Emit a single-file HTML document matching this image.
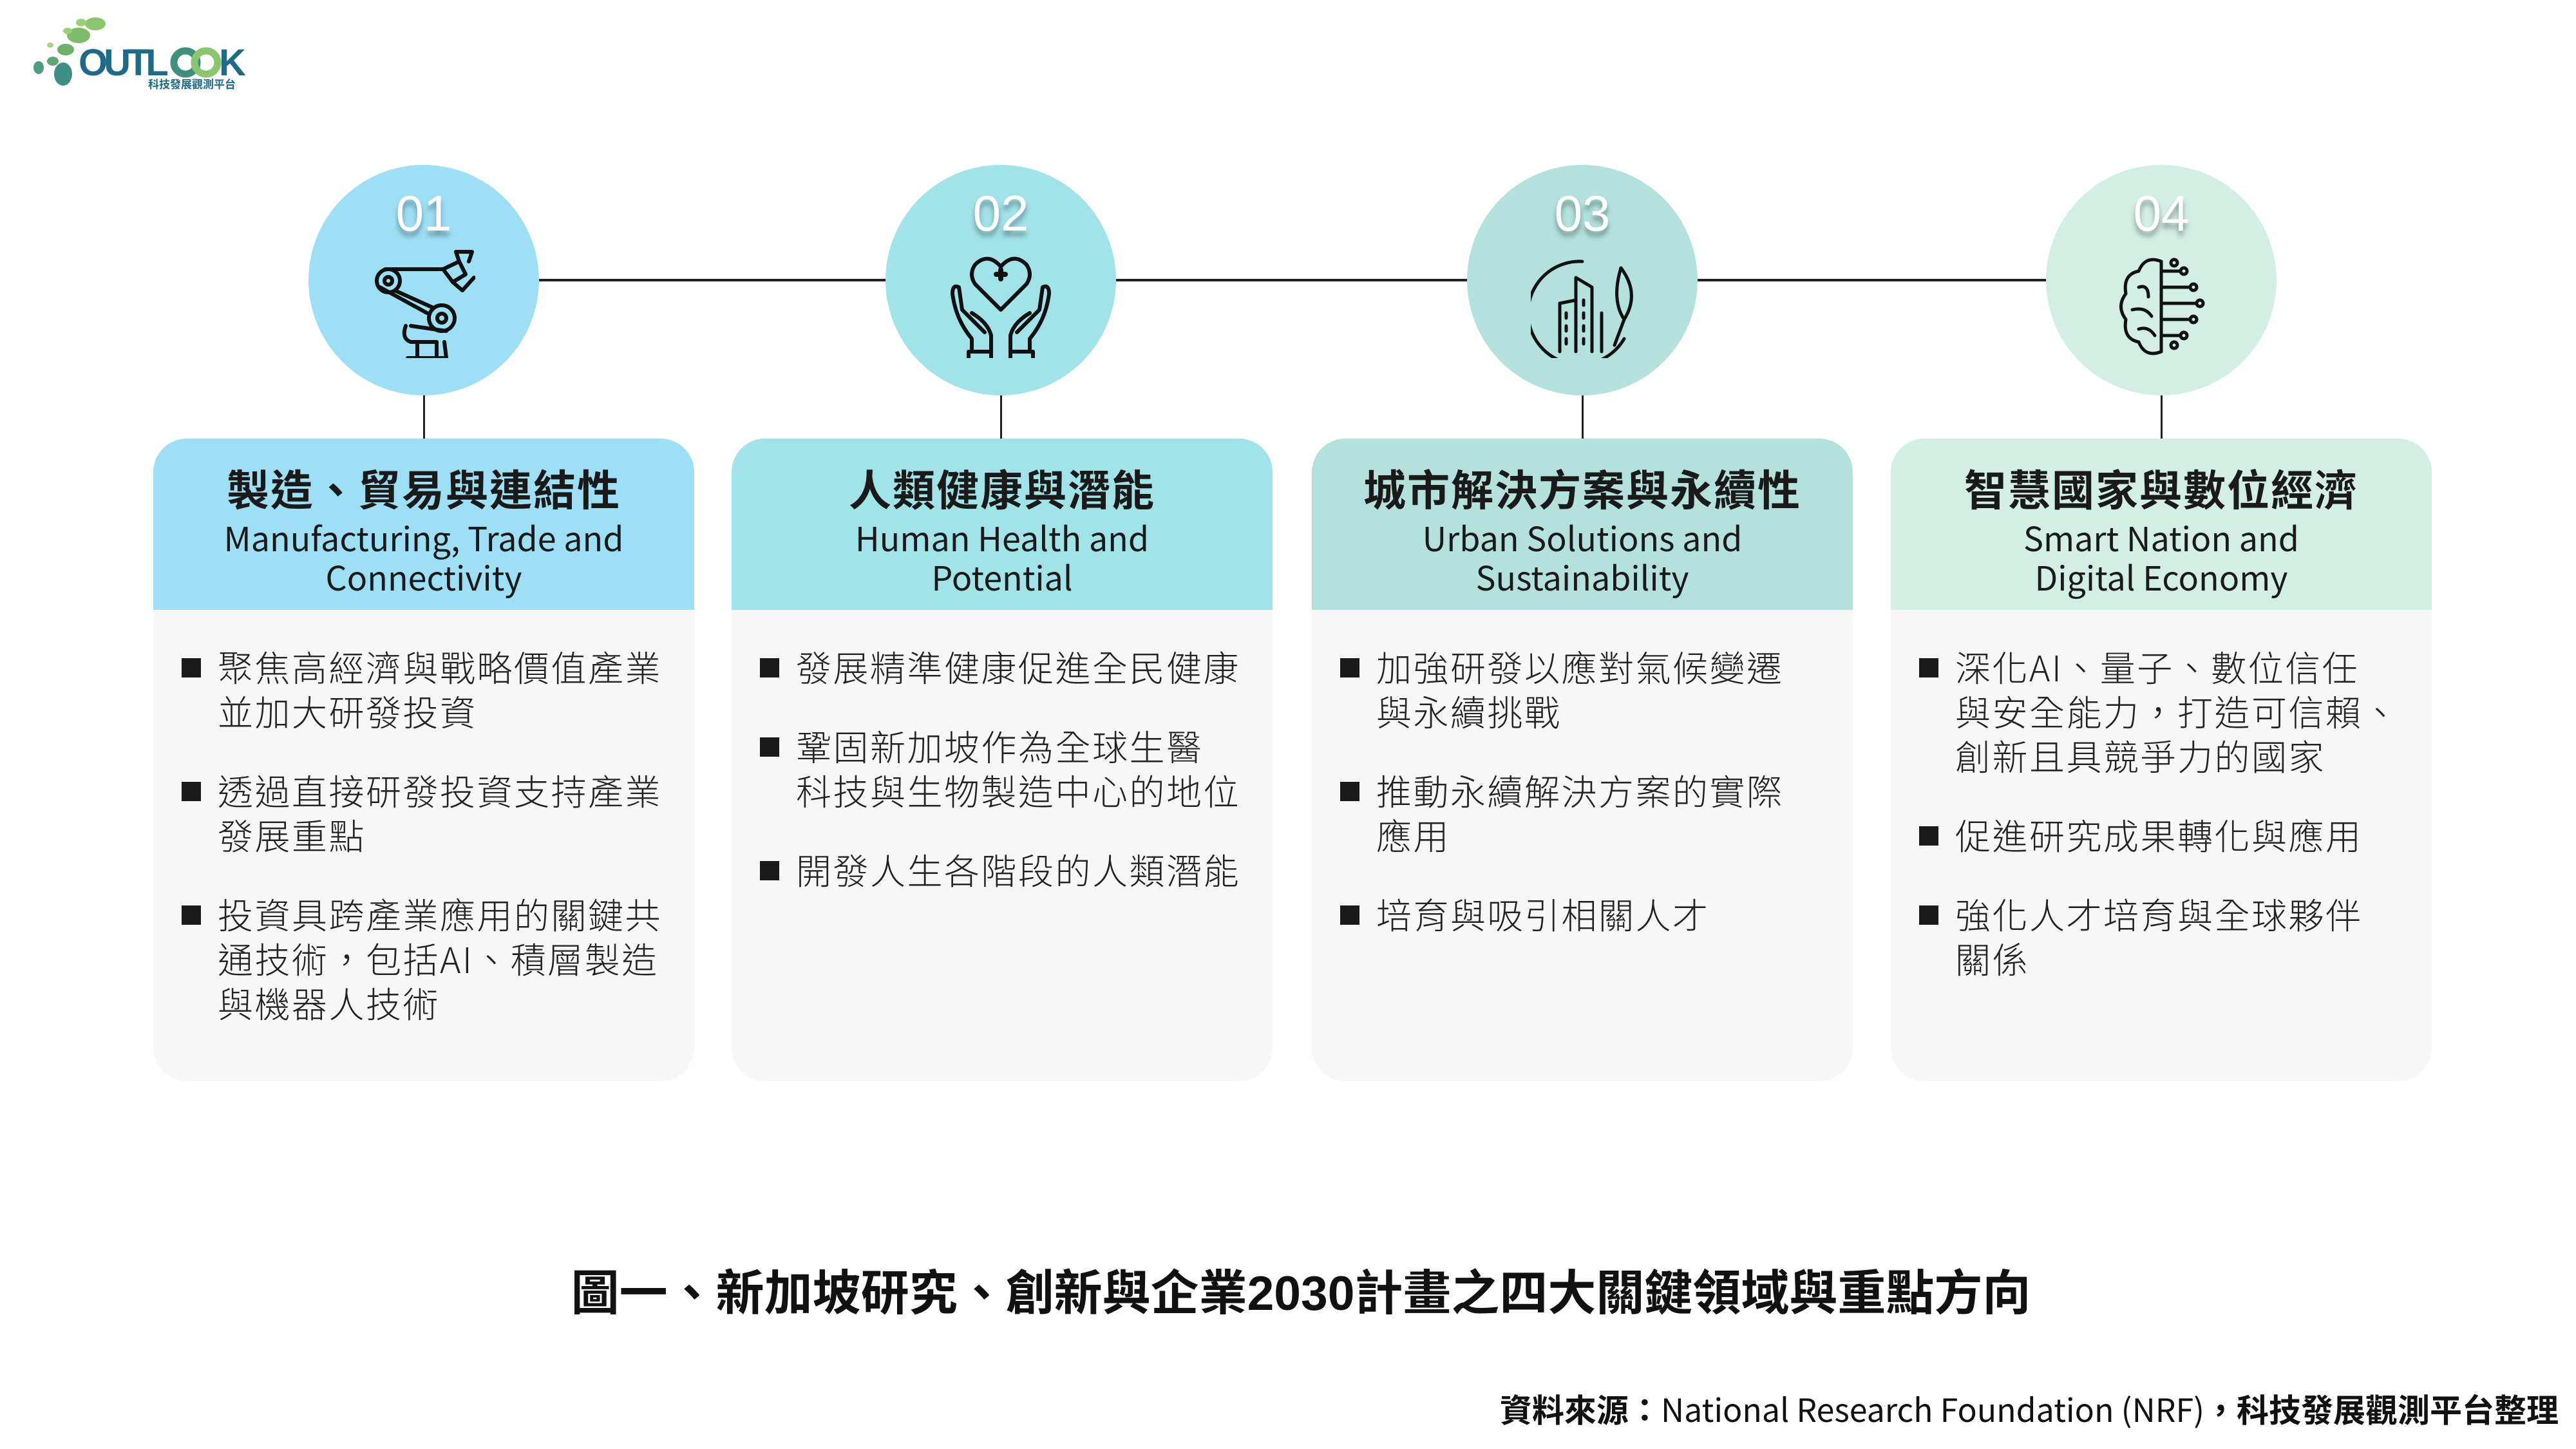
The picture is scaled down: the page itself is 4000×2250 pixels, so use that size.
<!DOCTYPE html>
<html><head><meta charset="utf-8"><style>
*{margin:0;padding:0;box-sizing:border-box}
body{width:4000px;height:2250px;background:#fff;position:relative;overflow:hidden;font-family:"Liberation Sans","Noto Sans CJK TC",sans-serif;color:#1a1a1a}
.abs{position:absolute}
.circle{position:absolute;width:358px;height:358px;border-radius:50%;top:256px}
.num{position:absolute;width:358px;left:0;top:30px;text-align:center;color:#fff;font-size:78px;font-family:"Liberation Sans","Noto Sans CJK TC",sans-serif;text-shadow:0 8px 8px rgba(0,0,0,.35)}
.icon{position:absolute;left:99px;top:130px;width:160px;height:170px}
.vline{position:absolute;width:3px;background:#222;top:614px;height:67px}
.card{position:absolute;top:681px;width:840px;height:998px;border-radius:52px;background:#f7f7f7;overflow:hidden}
.head{position:absolute;left:0;top:0;width:840px;height:266px;text-align:center}
.t1{position:absolute;left:0;width:840px;top:36px;font-size:66px;font-weight:bold;line-height:80px;font-family:"Noto Sans CJK TC",sans-serif;letter-spacing:2px}
.t2{position:absolute;left:0;width:840px;top:122px;font-size:52px;line-height:61px;font-family:"Noto Sans CJK TC",sans-serif}
.body{position:absolute;left:44px;top:319px;width:790px;font-family:"Noto Sans CJK TC",sans-serif;font-size:55px;line-height:69px;letter-spacing:2.5px;font-weight:300;color:#222;white-space:nowrap}
.b{position:relative;padding-left:56px;margin-bottom:54px}
.b:before{content:"";position:absolute;left:0;top:22px;width:30px;height:30px;background:#1a1a1a}
</style></head><body>

<!-- logo -->
<svg class="abs" style="left:30px;top:15px" width="360" height="125" viewBox="0 0 360 125">
<ellipse cx="92" cy="40" rx="18" ry="12" fill="#7dbb6a"/>
<ellipse cx="118" cy="22" rx="16" ry="10" fill="#8cc56f"/>
<ellipse cx="72" cy="62" rx="13" ry="9" fill="#6fb06a"/>
<ellipse cx="96" cy="20" rx="8" ry="6" fill="#9ccf7a"/>
<ellipse cx="75" cy="33" rx="7" ry="5" fill="#9ccf7a"/>
<ellipse cx="52" cy="80" rx="9" ry="7" fill="#5fa774"/>
<ellipse cx="68" cy="100" rx="14" ry="18" fill="#3f8f87"/>
<ellipse cx="30" cy="90" rx="8" ry="10" fill="#4e9b80"/>
<ellipse cx="48" cy="55" rx="5" ry="4" fill="#a6d37f"/>
<text x="92" y="102" font-family="Liberation Sans" font-weight="bold" font-size="58" fill="#1f6b86" letter-spacing="-6">OUTL</text>
<circle cx="258" cy="82" r="18" fill="none" stroke="#3f8f7e" stroke-width="11"/>
<circle cx="290" cy="82" r="18" fill="none" stroke="#8cc56f" stroke-width="11"/>
<text x="310" y="102" font-family="Liberation Sans" font-weight="bold" font-size="58" fill="#1f6b86">K</text>
<text x="200" y="122" font-family="Noto Sans CJK TC" font-weight="bold" font-size="17" fill="#1f6b86">科技發展觀測平台</text>
</svg>

<!-- connecting line -->
<div class="abs" style="left:660px;top:433px;width:2700px;height:4px;background:#222"></div>
<div class="vline" style="left:657px"></div>
<div class="vline" style="left:1553px"></div>
<div class="vline" style="left:2456px"></div>
<div class="vline" style="left:3355px"></div>

<!-- circles -->
<div class="circle" style="left:479px;background:#9fdff5"><div class="num">01</div>
<svg class="icon" viewBox="0 0 160 170" fill="none" stroke="#111" stroke-width="6" stroke-linecap="round" stroke-linejoin="round">
<circle cx="25" cy="50" r="18"/><circle cx="25" cy="50" r="6"/>
<circle cx="108" cy="108" r="20"/><circle cx="108" cy="108" r="7"/>
<path d="M20 32 L110 32 M35 65 L95 92 M12 60 L85 100"/>
<path d="M110 32 L135 20 L145 40 L125 52 Z"/>
<path d="M135 20 L130 5 L155 5 L150 20 M125 52 L140 65 L158 45"/>
<path d="M60 120 L115 128 M52 120 Q45 140 60 145 L100 145 L100 175"/>
<path d="M70 145 L70 170 M55 170 L115 170 L112 145 M45 185 L125 185"/>
</svg></div>

<div class="circle" style="left:1375px;background:#a2e2e9"><div class="num">02</div>
<svg class="icon" viewBox="0 0 160 170" fill="none" stroke="#111" stroke-width="6" stroke-linecap="round" stroke-linejoin="round">
<path d="M80 95 L40 55 Q30 40 40 25 Q60 5 80 28 Q100 5 120 25 Q130 40 120 55 Z"/>
<path d="M73 40 h14 M80 33 v14" stroke-width="8"/>
<path d="M35 160 L35 140 Q10 110 5 70 Q5 55 15 60 L20 95 L55 130 M65 160 L65 135 Q60 115 35 100"/>
<path d="M125 160 L125 140 Q150 110 155 70 Q155 55 145 60 L140 95 L105 130 M95 160 L95 135 Q100 115 125 100"/>
<rect x="30" y="160" width="35" height="22"/><rect x="95" y="160" width="35" height="22"/>
</svg></div>

<div class="circle" style="left:2278px;background:#b4e1dc"><div class="num">03</div>
<svg class="icon" viewBox="0 0 160 170" fill="none" stroke="#111" stroke-width="5" stroke-linecap="round" stroke-linejoin="round">
<path d="M80 20 A80 80 0 1 0 145 140"/>
<path d="M140 30 Q170 70 145 110 Q125 80 140 30 M145 110 L130 150"/>
<path d="M45 160 L45 85 L70 80 L70 45 L95 60 L95 160 M70 80 L70 160 M110 160 L110 100"/>
<path d="M55 100v8M55 120v8M55 140v8M82 80v8M82 100v8M82 120v8M82 140v8"/>
</svg></div>

<div class="circle" style="left:3177px;background:#d3efe4"><div class="num">04</div>
<svg class="icon" viewBox="0 0 160 170" fill="none" stroke="#111" stroke-width="5" stroke-linecap="round" stroke-linejoin="round">
<path d="M80 20 Q55 10 45 35 Q20 40 25 70 Q10 90 25 110 Q20 140 45 145 Q55 170 80 160 Z"/>
<path d="M45 60 Q60 55 60 75 M35 95 Q55 90 65 105 M45 125 Q60 120 70 135"/>
<path d="M80 35 h30 M80 60 h45 M80 85 h55 M80 110 h45 M80 135 h30"/>
<circle cx="115" cy="35" r="5"/><circle cx="130" cy="60" r="5"/><circle cx="140" cy="85" r="5"/><circle cx="130" cy="110" r="5"/><circle cx="115" cy="135" r="5"/><circle cx="100" cy="22" r="5"/><circle cx="100" cy="150" r="5"/>
</svg></div>

<!-- cards -->
<div class="card" style="left:238px">
<div class="head" style="background:#9fdff5"><div class="t1">製造、貿易與連結性</div><div class="t2">Manufacturing, Trade and<br>Connectivity</div></div>
<div class="body">
<div class="b">聚焦高經濟與戰略價值產業<br>並加大研發投資</div>
<div class="b">透過直接研發投資支持產業<br>發展重點</div>
<div class="b">投資具跨產業應用的關鍵共<br>通技術，包括AI、積層製造<br>與機器人技術</div>
</div></div>

<div class="card" style="left:1136px">
<div class="head" style="background:#a2e2e9"><div class="t1">人類健康與潛能</div><div class="t2">Human Health and<br>Potential</div></div>
<div class="body">
<div class="b">發展精準健康促進全民健康</div>
<div class="b">鞏固新加坡作為全球生醫<br>科技與生物製造中心的地位</div>
<div class="b">開發人生各階段的人類潛能</div>
</div></div>

<div class="card" style="left:2037px">
<div class="head" style="background:#b4e1dc"><div class="t1">城市解決方案與永續性</div><div class="t2">Urban Solutions and<br>Sustainability</div></div>
<div class="body">
<div class="b">加強研發以應對氣候變遷<br>與永續挑戰</div>
<div class="b">推動永續解決方案的實際<br>應用</div>
<div class="b">培育與吸引相關人才</div>
</div></div>

<div class="card" style="left:2936px">
<div class="head" style="background:#d3efe4"><div class="t1">智慧國家與數位經濟</div><div class="t2">Smart Nation and<br>Digital Economy</div></div>
<div class="body">
<div class="b">深化AI、量子、數位信任<br>與安全能力，打造可信賴、<br>創新且具競爭力的國家</div>
<div class="b">促進研究成果轉化與應用</div>
<div class="b">強化人才培育與全球夥伴<br>關係</div>
</div></div>

<div class="abs" style="left:0;width:4040px;top:1960px;text-align:center;font-family:'Liberation Sans','Noto Sans CJK TC',sans-serif;font-weight:bold;font-size:75px;line-height:96px;color:#111">圖一、新加坡研究、創新與企業2030計畫之四大關鍵領域與重點方向</div>

<div class="abs" style="right:27px;top:2156px;white-space:nowrap;font-family:'Noto Sans CJK TC',sans-serif;font-size:50px;line-height:62px;color:#111"><b>資料來源：</b>National Research Foundation (NRF)<b>，科技發展觀測平台整理</b></div>

</body></html>
